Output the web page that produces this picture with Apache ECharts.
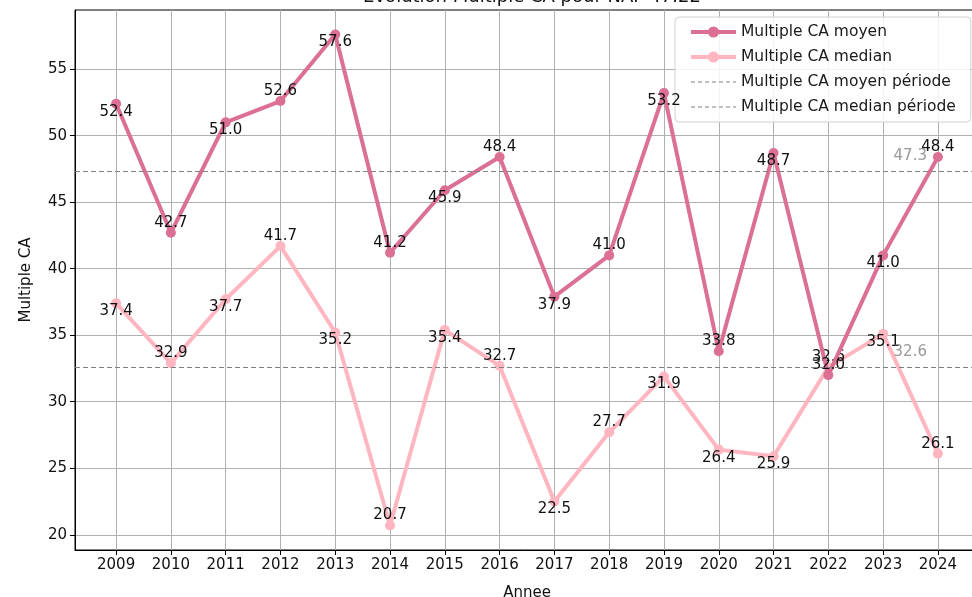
<!DOCTYPE html>
<html>
<head>
<meta charset="utf-8">
<script src="https://cdn.jsdelivr.net/npm/echarts@6/dist/echarts.min.js"></script>
<style>html,body{margin:0;padding:0;background:#fff;}#c{width:972px;height:597px;}</style>
</head>
<body>
<div id="c"></div>
<script>
const years = [2009,2010,2011,2012,2013,2014,2015,2016,2017,2018,2019,2020,2021,2022,2023,2024];
const moyen = [52.4,42.7,51.0,52.6,57.6,41.2,45.9,48.4,37.9,41.0,53.2,33.8,48.7,32.0,41.0,48.4];
const median = [37.4,32.9,37.7,41.7,35.2,20.7,35.4,32.7,22.5,27.7,31.9,26.4,25.9,32.6,35.1,26.1];
const moyenPeriode = 47.3;
const medianPeriode = 32.6;
const yTicks = [20,25,30,35,40,45,50,55];
// label placement: 1 = below point, -1 = above point
const moyenLabelSide = [1,-1,1,-1,1,-1,1,-1,1,-1,1,-1,1,-1,1,-1];
const medianLabelSide = [1,-1,1,-1,1,-1,1,-1,1,-1,1,1,1,-1,1,-1];

const FONT = 'DejaVu Sans';
const FS = 15;
const xPad = 0.05 * (years[years.length-1] - years[0]);
const allVals = moyen.concat(median);
const vMin = Math.min(...allVals), vMax = Math.max(...allVals);
const yPad = 0.05 * (vMax - vMin);

function pts(vals, sides) {
  return vals.map((v, i) => ({
    value: [years[i], v],
    label: { offset: [0, sides[i] > 0 ? 8 : -10] }
  }));
}
const ptLabel = {
  show: true, position: 'inside', color: '#111', fontFamily: FONT, fontSize: FS,
  formatter: p => p.value[1].toFixed(1)
};
const hidden = { opacity: 0 };

const chart = echarts.init(document.getElementById('c'), null, {renderer: 'canvas'});
chart.setOption({
  animation: false,
  backgroundColor: '#fff',
  title: {
    text: 'Evolution Multiple CA pour NAF 47.22',
    left: 527, top: -17, textAlign: 'center',
    textStyle: { fontFamily: FONT, fontSize: 18, fontWeight: 'normal', color: '#111' }
  },
  grid: { left: 75, width: 904, top: 10, bottom: 47, outerBoundsMode: 'none', containLabel: false,
    show: true, borderColor: '#000', borderWidth: 1, backgroundColor: 'transparent' },
  legend: {
    orient: 'vertical', left: 675, top: 17,
    padding: [7, 15, 7, 14], itemGap: 9, itemWidth: 45, itemHeight: 14,
    backgroundColor: 'rgba(255,255,255,0.85)', borderColor: '#d0d0d0', borderWidth: 1, borderRadius: 4,
    lineStyle: { width: 'inherit' },
    textStyle: { fontFamily: FONT, fontSize: 15.5, color: '#1a1a1a' },
    data: [
      'Multiple CA moyen', 'Multiple CA median',
      { name: 'Multiple CA moyen période', itemStyle: hidden },
      { name: 'Multiple CA median période', itemStyle: hidden }
    ]
  },
  xAxis: {
    type: 'value', min: years[0] - xPad, max: years[years.length-1] + xPad,
    name: 'Annee', nameLocation: 'middle', nameGap: 36,
    nameTextStyle: { fontFamily: FONT, fontSize: FS, color: '#111' },
    axisLine: { show: true, lineStyle: { color: '#000', width: 1 } },
    axisTick: { show: true, length: 5, customValues: years, lineStyle: { color: '#000' } },
    axisLabel: { customValues: years, fontFamily: FONT, fontSize: FS, color: '#111', margin: 8, formatter: v => String(v) },
    splitLine: { show: true, lineStyle: { color: '#b0b0b0', width: 1 } }
  },
  yAxis: {
    type: 'value', min: vMin - yPad, max: vMax + yPad,
    name: 'Multiple CA', nameLocation: 'middle', nameGap: 41, nameRotate: 90,
    nameTextStyle: { fontFamily: FONT, fontSize: FS, color: '#111' },
    axisLine: { show: true, lineStyle: { color: '#000', width: 1 } },
    axisTick: { show: true, length: 5, customValues: yTicks, lineStyle: { color: '#000' } },
    axisLabel: { customValues: yTicks, fontFamily: FONT, fontSize: FS, color: '#111', margin: 8 },
    splitLine: { show: true, lineStyle: { color: '#b0b0b0', width: 1 } }
  },
  series: [
    {
      name: 'Multiple CA moyen', type: 'line', data: pts(moyen, moyenLabelSide),
      symbol: 'circle', symbolSize: 10, z: 4,
      lineStyle: { color: '#DB7093', width: 4 }, itemStyle: { color: '#DB7093' },
      label: ptLabel
    },
    {
      name: 'Multiple CA median', type: 'line', data: pts(median, medianLabelSide),
      symbol: 'circle', symbolSize: 10, z: 3,
      lineStyle: { color: '#FFB6C1', width: 4 }, itemStyle: { color: '#FFB6C1' },
      label: ptLabel
    },
    {
      name: 'Multiple CA moyen période', type: 'line', data: [], symbol: 'none',
      lineStyle: { color: '#808080', width: 1.2, type: [4, 3] }, itemStyle: { color: '#808080' },
      markLine: { silent: true, symbol: 'none', label: { show: false },
        lineStyle: { color: '#808080', width: 1.2, type: [5, 3] }, data: [{ yAxis: moyenPeriode }] }
    },
    {
      name: 'Multiple CA median période', type: 'line', data: [], symbol: 'none',
      lineStyle: { color: '#808080', width: 1.2, type: [4, 3] }, itemStyle: { color: '#808080' },
      markLine: { silent: true, symbol: 'none', label: { show: false },
        lineStyle: { color: '#808080', width: 1.2, type: [5, 3] }, data: [{ yAxis: medianPeriode }] }
    },
    {
      type: 'scatter', symbolSize: 0, z: 5, silent: true,
      data: [[years[years.length-1] - 0.2, moyenPeriode], [years[years.length-1] - 0.2, medianPeriode]],
      label: { show: true, position: 'inside', align: 'right', offset: [0, -15],
        color: '#808080', fontFamily: FONT, fontSize: FS, formatter: p => p.value[1].toFixed(1) }
    }
  ]
});
</script>
</body>
</html>
